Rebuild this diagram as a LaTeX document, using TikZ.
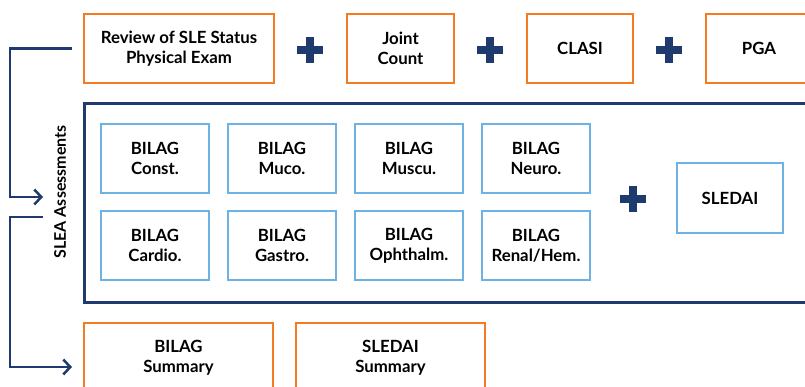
\documentclass[tikz,border=0pt]{standalone}
\usepackage{fontspec}
\setmainfont{Lato}
\usetikzlibrary{arrows.meta,calc}
\definecolor{orng}{HTML}{F47B20}
\definecolor{navy}{HTML}{1F3A6E}
\definecolor{lblue}{HTML}{6CB2E2}
\begin{document}
\begin{tikzpicture}[x=1pt,y=-1pt,
  every node/.style={font=\fontsize{16.8}{20}\selectfont\bfseries, text=black, align=center, inner sep=0pt},
  obox/.style={draw=orng, line width=2pt, minimum height=69pt},
  bbox/.style={draw=lblue, line width=2.4pt, minimum width=108pt, minimum height=69pt},
  frame/.style={draw=navy, line width=3pt},
  plus/.style={minimum size=26pt, path picture={
    \draw[navy, line width=8pt] (path picture bounding box.west) -- (path picture bounding box.east)
      (path picture bounding box.north) -- (path picture bounding box.south);}},
  conn/.style={draw=navy, line width=2.5pt},
  tip/.style={-{Straight Barb[length=7pt,width=15pt,line width=2.5pt]}}
]
\useasboundingbox (0,0) rectangle (805,387);
\clip (0,0) rectangle (805,387);
% top row
\node[obox, minimum width=190pt] (rev) at (179,48.5) {Review of SLE Status\\Physical Exam};
\node[plus] (p1) at (310,50) {};
\node[obox, minimum width=107pt] (jc) at (400.5,48.5) {Joint\\Count};
\node[plus] (p2) at (490,50) {};
\node[obox, minimum width=106pt] (clasi) at (580,48.5) {CLASI};
\node[plus] (p3) at (669,50) {};
\node[obox, minimum width=106pt] (pga) at (759,48.5) {PGA};
% assessments frame
\node[frame, minimum width=746pt, minimum height=198pt] (fr) at (457,203) {};
\node[bbox] (b1) at (155,158.5) {BILAG\\Const.};
\node[bbox] (b2) at (282,158.5) {BILAG\\Muco.};
\node[bbox] (b3) at (409,158.5) {BILAG\\Muscu.};
\node[bbox] (b4) at (536,158.5) {BILAG\\Neuro.};
\node[bbox] (b5) at (155,245.5) {BILAG\\Cardio.};
\node[bbox] (b6) at (282,245.5) {BILAG\\Gastro.};
\node[bbox] (b7) at (409,245.5) {BILAG\\Ophthalm.};
\node[bbox] (b8) at (536,245.5) {BILAG\\Renal/Hem.};
\node[plus] (p4) at (633,199) {};
\node[bbox, minimum width=106pt, minimum height=70pt] (sled) at (730,198) {SLEDAI};
% summaries
\node[obox, minimum width=189pt] (bsum) at (178.5,357.5) {BILAG\\Summary};
\node[obox, minimum width=189pt] (ssum) at (390.5,357.5) {SLEDAI\\Summary};
% label
\node[rotate=90, font=\fontsize{16}{20}\selectfont\bfseries] (lab) at (60,192) {SLEA Assessments};
% connectors
\coordinate (c1) at ($(rev.west)+(-11,0)$);
\coordinate (c1e) at (43,197);
\coordinate (c2) at (43,217);
\coordinate (c2e) at ($(bsum.west)+(-11,9.5)$);
\draw[conn, tip] (c1) -| (10,197) -- (c1e);
\draw[conn, tip] (c2) -| (10,367) -- (c2e);
\end{tikzpicture}
\end{document}
